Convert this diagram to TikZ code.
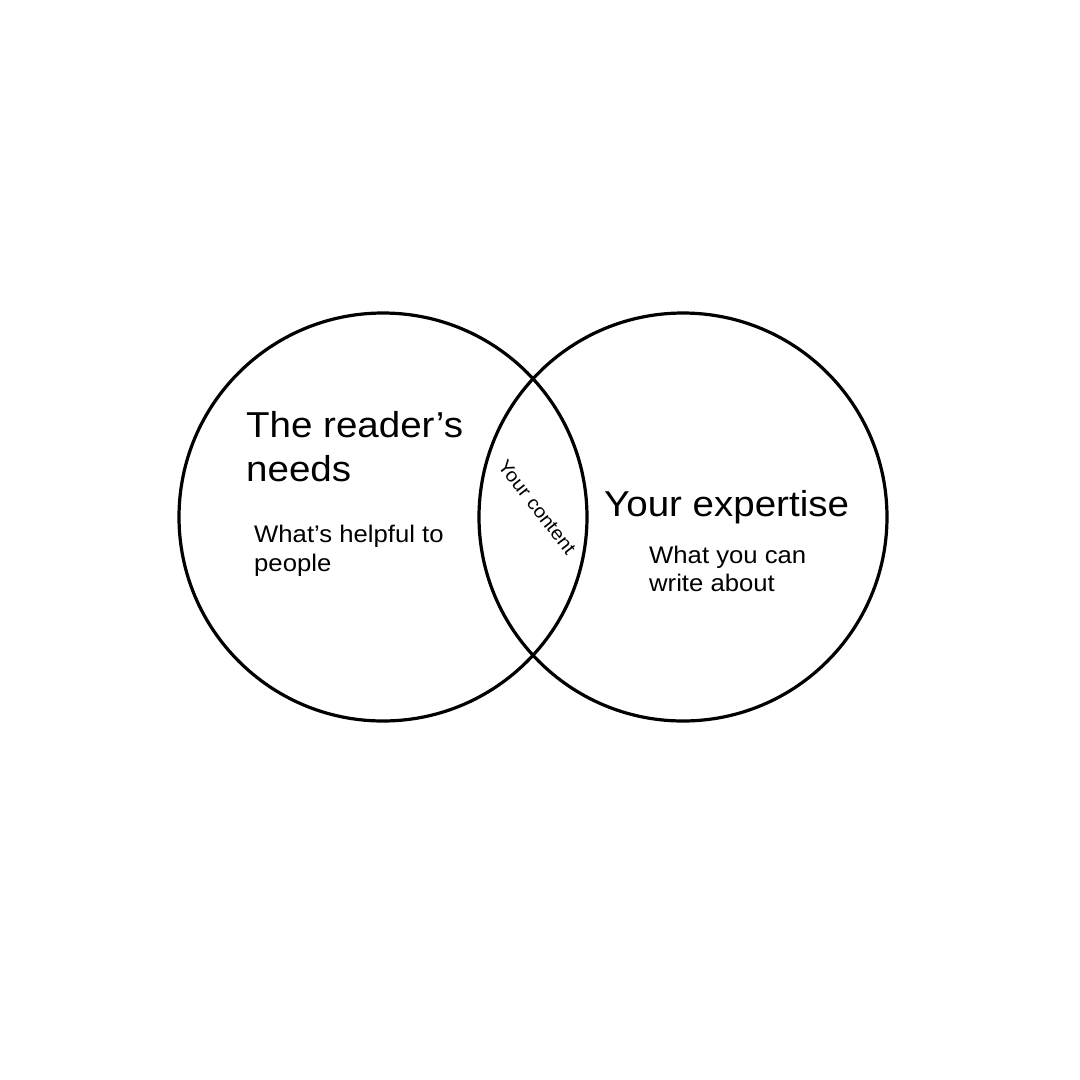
\documentclass[tikz,border=0pt]{standalone}
\usepackage{fontspec}
\setmainfont[FakeStretch=1.07]{Liberation Sans}
\begin{document}
\begin{tikzpicture}[x=1pt,y=-1pt,
  ring/.style={draw=black,line width=3.2pt},
  big/.style={font=\fontsize{36}{43}\selectfont,inner sep=0pt,anchor=base west},
  small/.style={font=\fontsize{24}{28}\selectfont,inner sep=0pt,anchor=base west},
  tiny/.style={font=\fontsize{19}{22}\selectfont,inner sep=0pt}]
\useasboundingbox[fill=white] (0,0) rectangle (1080,1080);
\node[ring,circle,minimum size=408pt,inner sep=0pt] (L) at (383,517) {};
\node[ring,circle,minimum size=408pt,inner sep=0pt] (R) at (683,517) {};
\node[big] (t1) at (246,437) {The reader’s};
\node[big] (t2) at (246,481) {needs};
\node[small] (s1) at (254,542) {What’s helpful to};
\node[small] (s2) at (254,571) {people};
\node[big] (t3) at (604,516) {Your expertise};
\node[small] (s3) at (649,563) {What you can};
\node[small] (s4) at (649,591) {write about};
\node[tiny,rotate=-52] (c) at (537,507) {Your content};
\end{tikzpicture}
\end{document}
